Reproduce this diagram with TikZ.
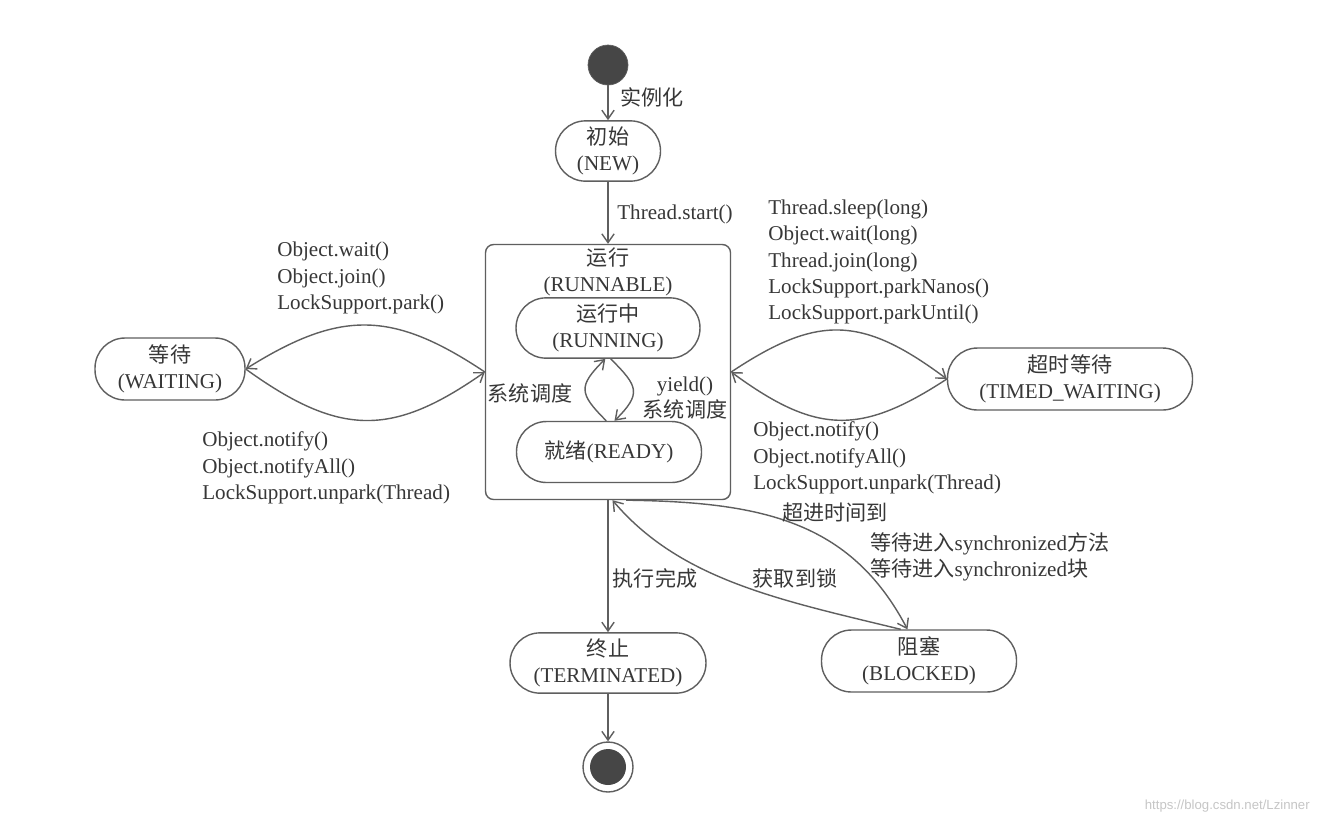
\documentclass[tikz,border=0pt]{standalone}
\usepackage{fontspec}
\setmainfont{Liberation Serif}
\newfontfamily\cjk{Noto Sans CJK SC}
\newfontfamily\urlfont{Liberation Sans}
\usetikzlibrary{arrows.meta}
\definecolor{linegray}{RGB}{95,95,95}
\definecolor{textgray}{RGB}{55,55,55}
\definecolor{dotgray}{RGB}{70,70,70}

\begin{document}
\begin{tikzpicture}
  [x=0.02cm,y=-0.02cm,
   every node/.style={text=textgray,font=\fontsize{12pt}{15pt}\selectfont},
   state/.style={draw=linegray,line width=0.8pt,rounded corners=0.6cm,align=center,minimum height=1.2cm},
   lbl/.style={inner sep=0pt,align=left},
   trans/.style={draw=linegray,line width=0.8pt,-{Straight Barb[length=5pt,width=7pt]}}]
  \fill[white] (0,0) rectangle (1317,826);
  \useasboundingbox (0,0) rectangle (1317,826);

  % states
  \node[circle,fill=dotgray,draw=linegray,minimum size=0.8cm,inner sep=0pt] (start) at (608,65) {};
  \node[state,minimum width=2.1cm] (new) at (608,151) {{\cjk 初始}\\(NEW)};
  \node[draw=linegray,line width=0.8pt,rounded corners=0.16cm,minimum width=4.9cm,minimum height=5.1cm] (runnable) at (608,372) {};
  \node[align=center] (runtitle) at (608,272) {{\cjk 运行}\\(RUNNABLE)};
  \node[state,minimum width=3.68cm] (running) at (608,328) {{\cjk 运行中}\\(RUNNING)};
  \node[state,minimum width=3.7cm,minimum height=1.22cm] (ready) at (609,452) {{\cjk 就绪}(READY)};
  \node[state,minimum width=3.0cm,minimum height=1.24cm] (waiting) at (170,369) {{\cjk 等待}\\(WAITING)};
  \node[state,minimum width=4.9cm,minimum height=1.24cm] (timed) at (1070,379) {{\cjk 超时等待}\\(TIMED\_WAITING)};
  \node[state,minimum width=3.92cm] (terminated) at (608,663) {{\cjk 终止}\\(TERMINATED)};
  \node[state,minimum width=3.9cm,minimum height=1.24cm] (blocked) at (919,661) {{\cjk 阻塞}\\(BLOCKED)};
  \node[circle,draw=linegray,line width=0.8pt,minimum size=1.0cm,inner sep=0pt] (stop) at (608,767) {};
  \node[circle,fill=dotgray,minimum size=0.72cm,inner sep=0pt] (stopdot) at (stop) {};

  % transitions
  \draw[trans] (start) -- (new);
  \draw[trans] (new) -- (runnable);
  \draw[trans] (runnable) -- (terminated);
  \draw[trans] (terminated) -- (stop);
  \draw[trans] (runnable.west) .. controls (392,310) and (340,310) .. (waiting.east);
  \draw[trans] (waiting.east) .. controls (340,437) and (392,437) .. (runnable.west);
  \draw[trans] (runnable.east) .. controls (817,315) and (861,315) .. (timed.west);
  \draw[trans] (timed.west) .. controls (861,435) and (817,435) .. (runnable.east);
  \draw[trans] (ready.95) to[out=135,in=-135,looseness=1.6] (running.-95);
  \draw[trans] (running.-85) to[out=-45,in=45,looseness=1.6] (ready.80);
  \draw[trans] (runnable.-82) .. controls (760,502) and (850,520) .. (blocked.110);
  \draw[trans] (blocked.120) .. controls (780,600) and (680,580) .. (runnable.-88);

  % labels
  \node[lbl,anchor=west] (instlbl) at (620,97) {\cjk 实例化};
  \node[lbl,anchor=west] (startlbl) at (617,214) {Thread.start()};
  \node[lbl,anchor=west] (waitlbl) at (277,278) {Object.wait()\\Object.join()\\LockSupport.park()};
  \node[lbl,anchor=west] (notifylbl) at (202,468) {Object.notify()\\Object.notifyAll()\\LockSupport.unpark(Thread)};
  \node[lbl,anchor=west] (sleeplbl) at (768,262) {Thread.sleep(long)\\Object.wait(long)\\Thread.join(long)\\LockSupport.parkNanos()\\LockSupport.parkUntil()};
  \node[lbl,anchor=west] (tnotifylbl) at (753,458) {Object.notify()\\Object.notifyAll()\\LockSupport.unpark(Thread)};
  \node[lbl] (schedlbl) at (530,393) {\cjk 系统调度};
  \node[lbl,align=center] (yieldlbl) at (685,398) {yield()\\{\cjk 系统调度}};
  \node[lbl] (timeoutlbl) at (835,512) {\cjk 超进时间到};
  \node[lbl,anchor=west] (synclbl) at (870,557) {{\cjk 等待进入}synchronized{\cjk 方法}\\{\cjk 等待进入}synchronized{\cjk 块}};
  \node[lbl] (donelbl) at (655,578) {\cjk 执行完成};
  \node[lbl] (locklbl) at (795,578) {\cjk 获取到锁};
  \node[lbl,anchor=east,font=\urlfont\fontsize{7.5pt}{9pt}\selectfont,text=gray!45] (url) at (1310,806) {https://blog.csdn.net/Lzinner};
\end{tikzpicture}
\end{document}
